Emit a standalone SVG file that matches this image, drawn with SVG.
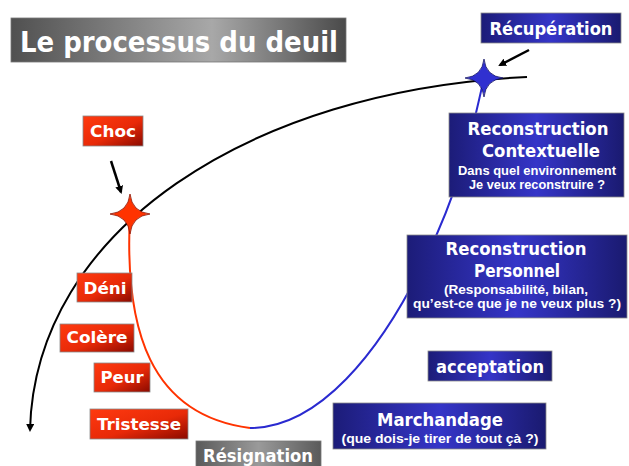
<svg xmlns="http://www.w3.org/2000/svg" width="629" height="466" viewBox="0 0 629 466">
<defs>
<linearGradient id="gTitle" x1="0" y1="0" x2="1" y2="0">
<stop offset="0" stop-color="#505050"/><stop offset="0.6" stop-color="#a8a8a8"/><stop offset="1" stop-color="#4a4a4a"/>
</linearGradient>
<linearGradient id="gGray" x1="0" y1="0" x2="1" y2="0">
<stop offset="0" stop-color="#5a5a5a"/><stop offset="0.5" stop-color="#9a9a9a"/><stop offset="1" stop-color="#5a5a5a"/>
</linearGradient>
<linearGradient id="gRed" x1="0" y1="0" x2="1" y2="1">
<stop offset="0" stop-color="#ff3a10"/><stop offset="0.55" stop-color="#e82a08"/><stop offset="1" stop-color="#8a0a00"/>
</linearGradient>
<linearGradient id="gBlue" x1="0" y1="0" x2="1" y2="0">
<stop offset="0" stop-color="#1c1c78"/><stop offset="0.5" stop-color="#3535c8"/><stop offset="1" stop-color="#1a1a70"/>
</linearGradient>
<marker id="ah" markerWidth="8" markerHeight="8" refX="6" refY="4" orient="auto" markerUnits="userSpaceOnUse">
<path d="M0,0 L8,4 L0,8 Z" fill="#000"/>
</marker>
<path id="star" d="M0,-20 Q2,-2 20,0 Q2,2 0,20 Q-2,2 -20,0 Q-2,-2 0,-20 Z"/>
</defs>
<style>
text{font-family:"DejaVu Sans","Liberation Sans",sans-serif;font-weight:bold;fill:#fff;text-anchor:middle}
.t{font-size:17px}
.s{font-size:12.5px;font-family:"Liberation Sans","DejaVu Sans",sans-serif}
.box{stroke:#8a8a8a;stroke-width:0.8}
.red{fill:url(#gRed)}
.blue{fill:url(#gBlue)}
</style>
<rect width="629" height="466" fill="#fff"/>

<g id="title">
<rect x="11" y="18" width="335" height="44" fill="url(#gTitle)" stroke="#777" stroke-width="0.8"/>
<text x="179" y="52" style="font-size:28px" textLength="318" lengthAdjust="spacingAndGlyphs">Le processus du deuil</text>
</g>

<g id="connectors" fill="none">
<path d="M527,77 C250,90 35,230 30,430" stroke="#000" stroke-width="2" marker-end="url(#ah)"/>
<path d="M130,214 C124,330 150,415 250,428" stroke="#ff3300" stroke-width="2"/>
<path d="M250,428 C320,428 380,350 420,270 S470,140 484,78" stroke="#2a2ad0" stroke-width="2"/>
<path d="M111,161 L121,192" stroke="#000" stroke-width="2.5" marker-end="url(#ah)"/>
<path d="M529,50 L500,65" stroke="#000" stroke-width="2.5" marker-end="url(#ah)"/>
<use href="#star" transform="translate(130,214)" fill="#ff3300" stroke="#8a1000" stroke-width="0.8"/>
<use href="#star" transform="translate(484,78) scale(0.95)" fill="#3030d0" stroke="#101060" stroke-width="0.8"/>
</g>

<g id="recuperation">
<rect class="box blue" x="481" y="13" width="140" height="30"/>
<text class="t" x="551" y="35" textLength="123" lengthAdjust="spacingAndGlyphs">Récupération</text>
</g>

<g id="choc">
<rect class="box red" x="83" y="116" width="60" height="30"/>
<text x="113" y="137" style="font-size:16px" textLength="46" lengthAdjust="spacingAndGlyphs">Choc</text>
</g>

<g id="reconstruction-contextuelle">
<rect class="box blue" x="449" y="113" width="175" height="84"/>
<text class="t" x="538" y="135" textLength="141" lengthAdjust="spacingAndGlyphs">Reconstruction</text>
<text class="t" x="541" y="157" textLength="118" lengthAdjust="spacingAndGlyphs">Contextuelle</text>
<text class="s" x="537" y="175" textLength="158" lengthAdjust="spacingAndGlyphs">Dans quel environnement</text>
<text class="s" x="537" y="189" textLength="136" lengthAdjust="spacingAndGlyphs">Je veux reconstruire ?</text>
</g>

<g id="reconstruction-personnel">
<rect class="box blue" x="407" y="235" width="220" height="83"/>
<text class="t" x="516" y="255" textLength="141" lengthAdjust="spacingAndGlyphs">Reconstruction</text>
<text class="t" x="517" y="277" textLength="86" lengthAdjust="spacingAndGlyphs">Personnel</text>
<text class="s" x="516" y="294" textLength="144" lengthAdjust="spacingAndGlyphs">(Responsabilité, bilan,</text>
<text class="s" x="517" y="308" textLength="208" lengthAdjust="spacingAndGlyphs">qu’est-ce que je ne veux plus ?)</text>
</g>

<g id="acceptation">
<rect class="box blue" x="428" y="351" width="124" height="30"/>
<text class="t" x="490" y="373" textLength="108" lengthAdjust="spacingAndGlyphs">acceptation</text>
</g>

<g id="marchandage">
<rect class="box blue" x="333" y="403" width="213" height="46"/>
<text class="t" x="440" y="426" textLength="126" lengthAdjust="spacingAndGlyphs">Marchandage</text>
<text class="s" x="440" y="443" textLength="197" lengthAdjust="spacingAndGlyphs">(que dois-je tirer de tout çà ?)</text>
</g>

<g id="resignation">
<rect x="196" y="441" width="125" height="30" fill="url(#gGray)" stroke="#777" stroke-width="0.8"/>
<text class="t" x="258" y="462" textLength="110" lengthAdjust="spacingAndGlyphs">Résignation</text>
</g>

<g id="deni">
<rect class="box red" x="77" y="273" width="55" height="29"/>
<text x="105" y="294" style="font-size:16px" textLength="43" lengthAdjust="spacingAndGlyphs">Déni</text>
</g>

<g id="colere">
<rect class="box red" x="60" y="324" width="74" height="28"/>
<text x="97" y="343" style="font-size:16px" textLength="61" lengthAdjust="spacingAndGlyphs">Colère</text>
</g>

<g id="peur">
<rect class="box red" x="94" y="363" width="56" height="29"/>
<text x="122" y="383" style="font-size:16px" textLength="43" lengthAdjust="spacingAndGlyphs">Peur</text>
</g>

<g id="tristesse">
<rect class="box red" x="90" y="409" width="98" height="30"/>
<text x="139" y="430" style="font-size:16px" textLength="84" lengthAdjust="spacingAndGlyphs">Tristesse</text>
</g>
</svg>
